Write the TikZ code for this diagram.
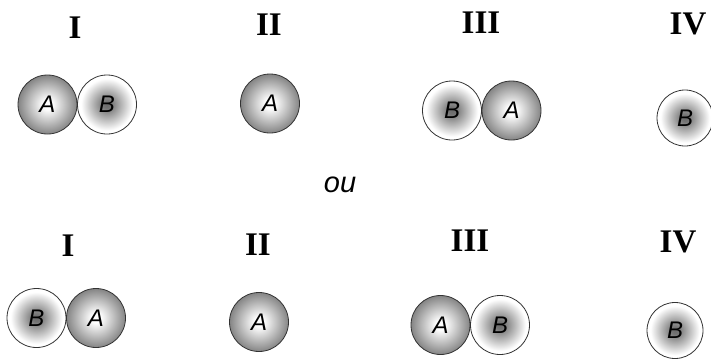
\documentclass[tikz,border=0pt]{standalone}
\usepackage{fontspec}
\setmainfont{Liberation Serif}
\newfontfamily\lsans{Liberation Sans}
\pgfdeclareradialshading{ashade}{\pgfpoint{0bp}{0bp}}{color(0bp)=(white); color(4bp)=(white); color(28bp)=(black!55); color(50bp)=(black!58)}
\pgfdeclareradialshading{bshade}{\pgfpoint{0bp}{0bp}}{color(0bp)=(black!58); color(3bp)=(black!55); color(22bp)=(white); color(50bp)=(white)}
\tikzset{
  ball/.style={circle, draw=black!80, line width=0.8pt, minimum size=59pt, inner sep=0pt,
    font=\lsans\itshape\fontsize{24}{24}\selectfont},
  aball/.style={ball, shading=ashade},
  bball/.style={ball, shading=bshade},
  numlabel/.style={inner sep=0pt, font=\bfseries\fontsize{33}{33}\selectfont},
  orlabel/.style={inner sep=0pt, font=\lsans\itshape\fontsize{29}{29}\selectfont}
}
\begin{document}
\begin{tikzpicture}[x=1pt, y=-1pt]
\useasboundingbox (0,0) rectangle (711,359);
% top row
\node[numlabel] (tl1) at (75,28) {I};
\node[numlabel] (tl2) at (269,25) {II};
\node[numlabel] (tl3) at (481,23) {III};
\node[numlabel] (tl4) at (688,24) {IV};
\node[aball] (t1a) at (47.5,104.5) {A};
\node[bball] (t1b) at (107,104.5) {B};
\node[aball] (t2a) at (270,103.5) {A};
\node[bball] (t3b) at (452,110.5) {B};
\node[aball] (t3a) at (511.5,110.5) {A};
\node[bball, minimum size=56pt] (t4b) at (685,118) {B};
% or
\node[orlabel] (ou) at (340,185) {ou};
% bottom row
\node[numlabel] (bl1) at (68,246) {I};
\node[numlabel] (bl2) at (258,245) {II};
\node[numlabel] (bl3) at (470,241) {III};
\node[numlabel] (bl4) at (678,242) {IV};
\node[bball] (b1b) at (36.5,318) {B};
\node[aball] (b1a) at (96,318) {A};
\node[aball] (b2a) at (259,322) {A};
\node[aball] (b3a) at (440.5,325) {A};
\node[bball] (b3b) at (500,325) {B};
\node[bball, minimum size=56pt] (b4b) at (675,330.5) {B};
\end{tikzpicture}
\end{document}
